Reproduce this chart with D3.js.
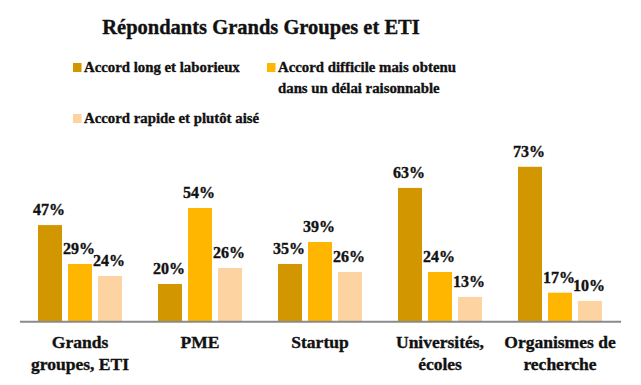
<!DOCTYPE html>
<html>
<head>
<meta charset="utf-8">
<script src="https://cdn.jsdelivr.net/npm/d3@7"></script>
<style>
  html, body { margin: 0; padding: 0; background: #fff; }
  svg { display: block; }
  text { font-family: "Liberation Serif", serif; font-weight: bold; fill: #111; stroke: #111; stroke-width: 0.35px; }
</style>
</head>
<body>
<svg id="chart" width="641" height="385"></svg>
<script>
const title = "Répondants Grands Groupes et ETI";
const categories = [["Grands", "groupes, ETI"], ["PME"], ["Startup"], ["Universités,", "écoles"], ["Organismes de", "recherche"]];
const seriesNames = [["Accord long et laborieux"], ["Accord difficile mais obtenu", "dans un délai raisonnable"], ["Accord rapide et plutôt aisé"]];
const seriesColors = ["#D29600", "#FFB600", "#FDD3A1"];
// bar heights as drawn
const longValues      = [45.4, 17.5, 27.0, 63.0, 73.0];
const difficileValues = [27.0, 53.5, 37.4, 23.2, 13.4];
const rapideValues    = [21.3, 25.1, 23.2, 11.4, 9.5];
// data labels as printed
const longLabels      = ["47%", "20%", "35%", "63%", "73%"];
const difficileLabels = ["29%", "54%", "39%", "24%", "17%"];
const rapideLabels    = ["24%", "26%", "26%", "13%", "10%"];

const series = [
  { name: seriesNames[0], color: seriesColors[0], values: longValues, labels: longLabels },
  { name: seriesNames[1], color: seriesColors[1], values: difficileValues, labels: difficileLabels },
  { name: seriesNames[2], color: seriesColors[2], values: rapideValues, labels: rapideLabels }
];

const svg = d3.select("#chart");
const catIdx = categories.map((d, i) => i);

const x0 = d3.scaleBand().domain(catIdx).range([20, 620]).paddingInner(0.3).paddingOuter(0.15);
const x1 = d3.scaleBand().domain(d3.range(series.length)).range([0, x0.bandwidth()]).paddingInner(0.2);
const y = d3.scaleLinear().domain([0, 80]).range([321, 152]);

// title
svg.append("text").attr("x", 261).attr("y", 34).attr("text-anchor", "middle")
  .style("font-size", "20.5px").text(title);

// legend
const legendPos = [[73, 72], [267, 72], [73, 123]];
series.forEach((s, i) => {
  const [lx, ly] = legendPos[i];
  svg.append("rect").attr("x", lx).attr("y", ly - 9).attr("width", 8.5).attr("height", 9).attr("fill", s.color);
  const t = svg.append("text").attr("x", lx + 11).attr("y", ly).style("font-size", "14.8px");
  s.name.forEach((line, j) => {
    t.append("tspan").attr("x", lx + 11).attr("dy", j === 0 ? 0 : 21).text(line);
  });
});

// bars
const groups = svg.append("g").selectAll("g").data(catIdx).join("g")
  .attr("transform", i => `translate(${x0(i)},0)`);

series.forEach((s, si) => {
  groups.append("rect")
    .attr("x", x1(si))
    .attr("y", i => y(s.values[i]))
    .attr("width", x1.bandwidth())
    .attr("height", i => y(0) - y(s.values[i]))
    .attr("fill", s.color);
});
series.forEach((s, si) => {
  groups.append("text")
    .attr("x", x1(si) + x1.bandwidth() / 2 - 1)
    .attr("y", i => y(s.values[i]) - 10)
    .attr("text-anchor", "middle")
    .style("font-size", "16px")
    .text(i => s.labels[i]);
});

// axis baseline
const xAxis = d3.axisBottom(x0).tickSize(0).tickFormat("");
const ax = svg.append("g").attr("transform", "translate(0,321.8)").call(xAxis);
ax.select(".domain").attr("d", "M20,0H621").attr("stroke", "#8A8A8A").attr("stroke-width", 2);

// category labels
catIdx.forEach(i => {
  const t = svg.append("text").attr("x", x0(i) + x0.bandwidth() / 2).attr("y", 348)
    .attr("text-anchor", "middle").style("font-size", "17.5px");
  categories[i].forEach((line, j) => {
    t.append("tspan").attr("x", x0(i) + x0.bandwidth() / 2).attr("dy", j === 0 ? 0 : 22).text(line);
  });
});
</script>
</body>
</html>
